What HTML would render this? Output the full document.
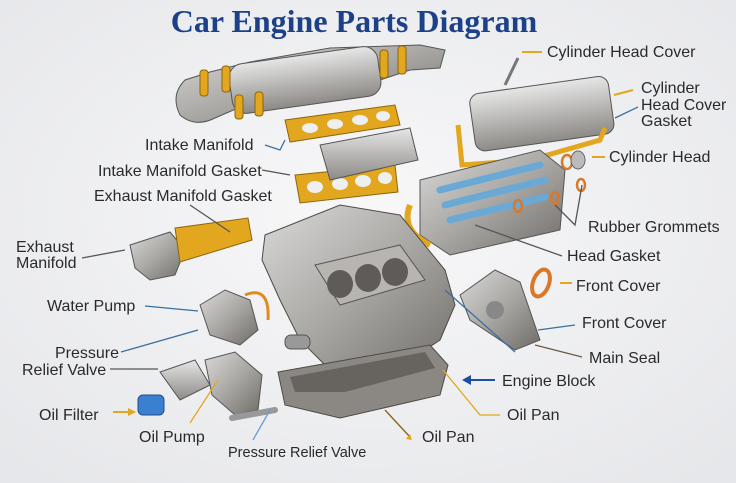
<!DOCTYPE html>
<html><head><meta charset="utf-8"><style>
html,body{margin:0;padding:0;width:736px;height:483px;overflow:hidden;background:#eeeff1}
svg{display:block}
text{font-family:"Liberation Sans",sans-serif;font-size:16px;fill:#2a2a2a}
</style></head><body>
<svg width="736" height="483" viewBox="0 0 736 483">
<defs>
<radialGradient id="bg" cx="50%" cy="45%" r="70%"><stop offset="0" stop-color="#f8f8f9"/><stop offset="1" stop-color="#e6e7ea"/></radialGradient>
<linearGradient id="m" x1="0" y1="0" x2="1" y2="1"><stop offset="0" stop-color="#d9d9d9"/><stop offset="0.5" stop-color="#a9a7a3"/><stop offset="1" stop-color="#6f6c68"/></linearGradient>
<linearGradient id="m2" x1="0" y1="0" x2="0" y2="1"><stop offset="0" stop-color="#e6e6e6"/><stop offset="1" stop-color="#8d8a86"/></linearGradient>
</defs>
<rect width="736" height="483" fill="url(#bg)"/>
<text x="354" y="32" text-anchor="middle" style="font-family:'Liberation Serif',serif;font-weight:bold;font-size:32px;fill:#1d4189">Car Engine Parts Diagram</text>

<path d="M185,80 Q170,95 180,115 Q195,128 215,118 L245,105 L270,110 L290,100 L380,80 L410,70 L440,68 L445,50 L420,45 L330,48 L250,62 L210,72 Z" fill="url(#m)" stroke="#555" stroke-width="1"/>
<rect x="230" y="55" width="150" height="50" rx="14" fill="url(#m2)" stroke="#555" transform="rotate(-8 305 80)"/>
<g fill="#e2a71e" stroke="#8a6510"><rect x="200" y="70" width="8" height="26" rx="3"/><rect x="222" y="66" width="8" height="26" rx="3"/><rect x="235" y="95" width="8" height="24" rx="3"/><rect x="255" y="92" width="8" height="24" rx="3"/><rect x="380" y="50" width="8" height="28" rx="3"/><rect x="398" y="46" width="8" height="28" rx="3"/></g>
<path d="M285,120 L395,105 L400,125 L290,142 Z" fill="#e2a71e" stroke="#8a6510"/>
<path d="M295,175 L395,165 L398,192 L300,203 Z" fill="#e2a71e" stroke="#8a6510"/>
<g fill="#eeeff1"><ellipse cx="310" cy="128" rx="8" ry="5"/><ellipse cx="335" cy="124" rx="8" ry="5"/><ellipse cx="360" cy="120" rx="8" ry="5"/><ellipse cx="383" cy="116" rx="7" ry="5"/><ellipse cx="315" cy="187" rx="8" ry="6"/><ellipse cx="340" cy="184" rx="8" ry="6"/><ellipse cx="363" cy="181" rx="8" ry="6"/><ellipse cx="385" cy="178" rx="7" ry="6"/></g>
<path d="M320,145 L410,128 L418,160 L330,180 Z" fill="url(#m2)" stroke="#555"/>
<path d="M130,245 L170,232 L185,250 L175,275 L150,280 L135,268 Z" fill="url(#m)" stroke="#555"/>
<path d="M175,228 L248,218 L252,240 L180,262 Z" fill="#e2a71e" stroke="#8a6510"/>
<rect x="472" y="85" width="140" height="58" rx="10" fill="url(#m2)" stroke="#555" transform="rotate(-8 540 115)"/>
<path d="M458,125 L462,165 L530,160 L600,140 L605,128" fill="none" stroke="#e2a71e" stroke-width="5"/>
<line x1="505" y1="85" x2="518" y2="58" stroke="#777" stroke-width="3"/>
<path d="M420,180 L540,150 L565,170 L560,230 L450,255 L420,235 Z" fill="url(#m)" stroke="#555"/>
<g stroke="#6aa9d6" stroke-width="7" stroke-linecap="round"><line x1="440" y1="190" x2="540" y2="165"/><line x1="445" y1="205" x2="545" y2="180"/><line x1="450" y1="220" x2="545" y2="197"/></g>
<path d="M410,205 Q400,230 430,245" fill="none" stroke="#e2a71e" stroke-width="6"/>
<g fill="none" stroke="#d9782a" stroke-width="2.5"><ellipse cx="567" cy="162" rx="5" ry="7"/><ellipse cx="581" cy="185" rx="4" ry="6"/><ellipse cx="555" cy="198" rx="4" ry="6"/><ellipse cx="518" cy="206" rx="4" ry="6"/></g>
<ellipse cx="578" cy="160" rx="7" ry="9" fill="#bbb" stroke="#666"/>
<path d="M265,235 L340,205 L400,215 L445,270 L455,305 L440,340 L380,380 L330,370 L300,340 L280,300 L262,260 Z" fill="url(#m)" stroke="#4d4a47"/>
<path d="M315,265 L400,245 L425,280 L340,305 Z" fill="#b8b5b0" stroke="#555"/>
<g fill="#5e5b58"><ellipse cx="340" cy="284" rx="13" ry="14"/><ellipse cx="368" cy="278" rx="13" ry="14"/><ellipse cx="395" cy="272" rx="13" ry="14"/></g>
<rect x="285" y="335" width="25" height="14" rx="6" fill="#999" stroke="#555"/>
<path d="M278,372 L430,345 L448,365 L440,395 L340,418 L285,405 Z" fill="#8b8782" stroke="#4d4a47"/>
<path d="M290,377 L425,352 L435,368 L345,392 L295,392 Z" fill="#67635e"/>
<path d="M460,295 L495,270 L520,282 L540,340 L515,350 L470,320 Z" fill="url(#m)" stroke="#555"/>
<circle cx="495" cy="310" r="9" fill="#888"/>
<ellipse cx="541" cy="283" rx="8" ry="14" fill="none" stroke="#d9782a" stroke-width="4" transform="rotate(20 541 283)"/>
<path d="M200,305 L225,290 L250,300 L258,330 L240,345 L210,335 Z" fill="url(#m)" stroke="#555"/>
<path d="M245,295 Q270,285 268,320" fill="none" stroke="#e08a20" stroke-width="3"/>
<path d="M160,372 L195,360 L210,385 L180,400 Z" fill="url(#m2)" stroke="#555"/>
<rect x="138" y="395" width="26" height="20" rx="5" fill="#3a7fd0" stroke="#214e8a"/>
<path d="M205,360 L235,352 L262,375 L258,410 L235,415 L212,395 Z" fill="url(#m)" stroke="#555"/>
<path d="M232,418 L275,410" stroke="#999" stroke-width="6" stroke-linecap="round"/>

<g fill="none" stroke-width="1.3">
<path d="M265,145 L280,150 L285,140" stroke="#3a6e9e"/>
<path d="M262,170 L290,175" stroke="#555"/>
<path d="M190,205 L230,232" stroke="#555"/>
<path d="M82,258 L125,250" stroke="#555"/>
<path d="M145,306 L198,311" stroke="#3a6e9e"/>
<path d="M121,352 L198,330" stroke="#3a6e9e"/>
<path d="M110,369 L158,369" stroke="#555"/>
<path d="M113,412 L135,412" stroke="#e2a71e" stroke-width="2"/>
<path d="M190,423 L218,380" stroke="#e2a71e"/>
<path d="M253,440 L270,410" stroke="#6a9ccc"/>
<path d="M385,410 L410,437" stroke="#8a6510"/>
<path d="M443,370 L480,415 L500,415" stroke="#e2a71e"/>
<path d="M470,380 L495,380" stroke="#1d4ea0" stroke-width="2"/>
<path d="M445,290 L515,352" stroke="#3a6e9e"/>
<path d="M535,345 L582,357" stroke="#6b5a48"/>
<path d="M538,330 L575,325" stroke="#3a6e9e"/>
<path d="M560,283 L572,283" stroke="#e2a71e" stroke-width="2"/>
<path d="M475,225 L562,256" stroke="#555"/>
<path d="M555,205 L575,225 L582,185" stroke="#555"/>
<path d="M592,157 L605,157" stroke="#e2a71e" stroke-width="2"/>
<path d="M615,118 L638,107" stroke="#3a6e9e"/>
<path d="M614,95 L633,90" stroke="#e2a71e" stroke-width="2"/>
<path d="M522,52 L542,52" stroke="#e2a71e" stroke-width="2"/>
</g>
<g fill="#e2a71e"><path d="M136,412 l-8,-4 v8z"/><path d="M412,440 l-6,-1 4,-5z"/></g>
<path d="M462,380 l9,-5 v10z" fill="#1d4ea0"/>

<text x="547" y="57">Cylinder Head Cover</text>
<text x="641" y="93">Cylinder</text>
<text x="641" y="110">Head Cover</text>
<text x="641" y="126">Gasket</text>
<text x="609" y="162">Cylinder Head</text>
<text x="588" y="232">Rubber Grommets</text>
<text x="567" y="261">Head Gasket</text>
<text x="576" y="291">Front Cover</text>
<text x="582" y="328">Front Cover</text>
<text x="589" y="363">Main Seal</text>
<text x="502" y="386">Engine Block</text>
<text x="507" y="420">Oil Pan</text>
<text x="422" y="442">Oil Pan</text>
<text x="228" y="457" style="font-size:14.5px">Pressure Relief Valve</text>
<text x="139" y="442">Oil Pump</text>
<text x="39" y="420">Oil Filter</text>
<text x="55" y="358">Pressure</text>
<text x="22" y="375">Relief Valve</text>
<text x="47" y="311">Water Pump</text>
<text x="16" y="252">Exhaust</text>
<text x="16" y="268">Manifold</text>
<text x="94" y="201">Exhaust Manifold Gasket</text>
<text x="98" y="176">Intake Manifold Gasket</text>
<text x="145" y="150">Intake Manifold</text>
</svg>
</body></html>
